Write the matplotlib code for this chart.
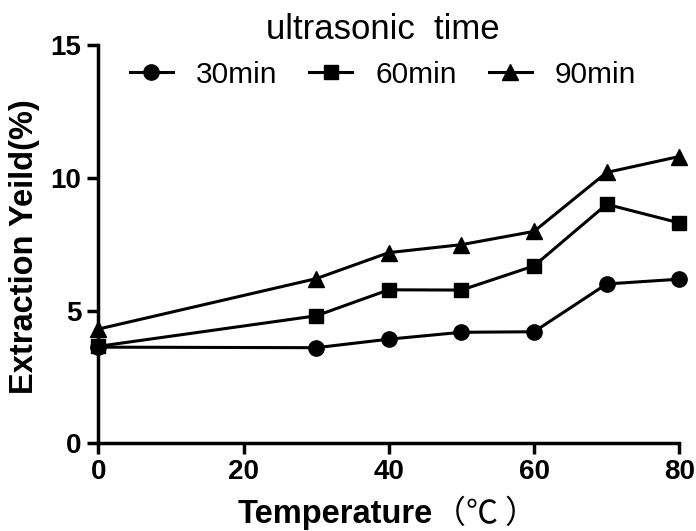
import os
import matplotlib
matplotlib.use('Agg')
import matplotlib.pyplot as plt
from matplotlib import font_manager as fm

plt.rcParams['font.family'] = ['Liberation Sans', 'Noto Sans CJK SC', 'DejaVu Sans']

# Data
temperature = [0, 30, 40, 50, 60, 70, 80]
yield_30min = [3.62, 3.6, 3.92, 4.18, 4.2, 6.0, 6.18]
yield_60min = [3.65, 4.8, 5.78, 5.77, 6.68, 9.0, 8.3]
yield_90min = [4.3, 6.2, 7.18, 7.48, 7.98, 10.2, 10.8]
series_labels = ['30min', '60min', '90min']
x_ticks = [0, 20, 40, 60, 80]
y_ticks = [0, 5, 10, 15]

# wide bold for axis titles, narrow bold for tick numbers
font_files = {os.path.basename(p): p for p in fm.findSystemFonts()}
if 'LiberationSans-Bold.ttf' in font_files:
    label_font = fm.FontProperties(fname=font_files['LiberationSans-Bold.ttf'], size=23.5)
else:
    label_font = fm.FontProperties(family='Liberation Sans', weight='bold', size=23.5)
narrow = [n for n in font_files if n.startswith('LiberationSansNarrow-Bold')]
if narrow:
    tick_font = fm.FontProperties(fname=font_files[narrow[0]], size=20)
else:
    tick_font = fm.FontProperties(family='Liberation Sans', weight='bold', size=20)

fig = plt.figure(figsize=(6.96, 5.31), dpi=100)
ax = fig.add_axes([0.1412, 0.1652, 0.8348, 0.7501])

style = dict(color='black', linewidth=2.2, clip_on=False)
ax.plot(temperature, yield_30min, marker='o', markersize=11, label=series_labels[0], **style)
ax.plot(temperature, yield_60min, marker='s', markersize=10.5, label=series_labels[1], **style)
ax.plot(temperature, yield_90min, marker='^', markersize=11, label=series_labels[2], **style)

ax.set_xlim(0, 80)
ax.set_ylim(0, 15)
ax.set_xticks(x_ticks)
ax.set_yticks(y_ticks)

for side in ['top', 'right']:
    ax.spines[side].set_visible(False)
for side in ['left', 'bottom']:
    ax.spines[side].set_linewidth(2.5)
ax.tick_params(direction='out', length=8, width=2.5)
ax.tick_params(axis='y', pad=4)
ax.tick_params(axis='x', pad=3)
for lab in ax.get_xticklabels() + ax.get_yticklabels():
    lab.set_fontproperties(tick_font)

# axis titles
fig.text(433 / 696, 7.7 / 531, 'Temperature', fontproperties=label_font,
         ha='right', va='baseline')
fig.text(434 / 696, 7.7 / 531, '（℃ ）', family='Noto Sans CJK SC', fontsize=23,
         ha='left', va='baseline')
fig.text(25 / 696, (531 - 247) / 531, 'Extraction Yeild(%)', fontproperties=label_font,
         rotation=90, ha='center', va='center')

leg = ax.legend(title='ultrasonic  time', ncol=3, frameon=False,
                loc='upper center', bbox_to_anchor=(383 / 696, (531 - 13) / 531),
                bbox_transform=fig.transFigure,
                fontsize=21.5, title_fontsize=25, handlelength=1.44,
                columnspacing=1.07, handletextpad=0.77, borderpad=0,
                borderaxespad=0)

fig.savefig('out.png', dpi=100)
